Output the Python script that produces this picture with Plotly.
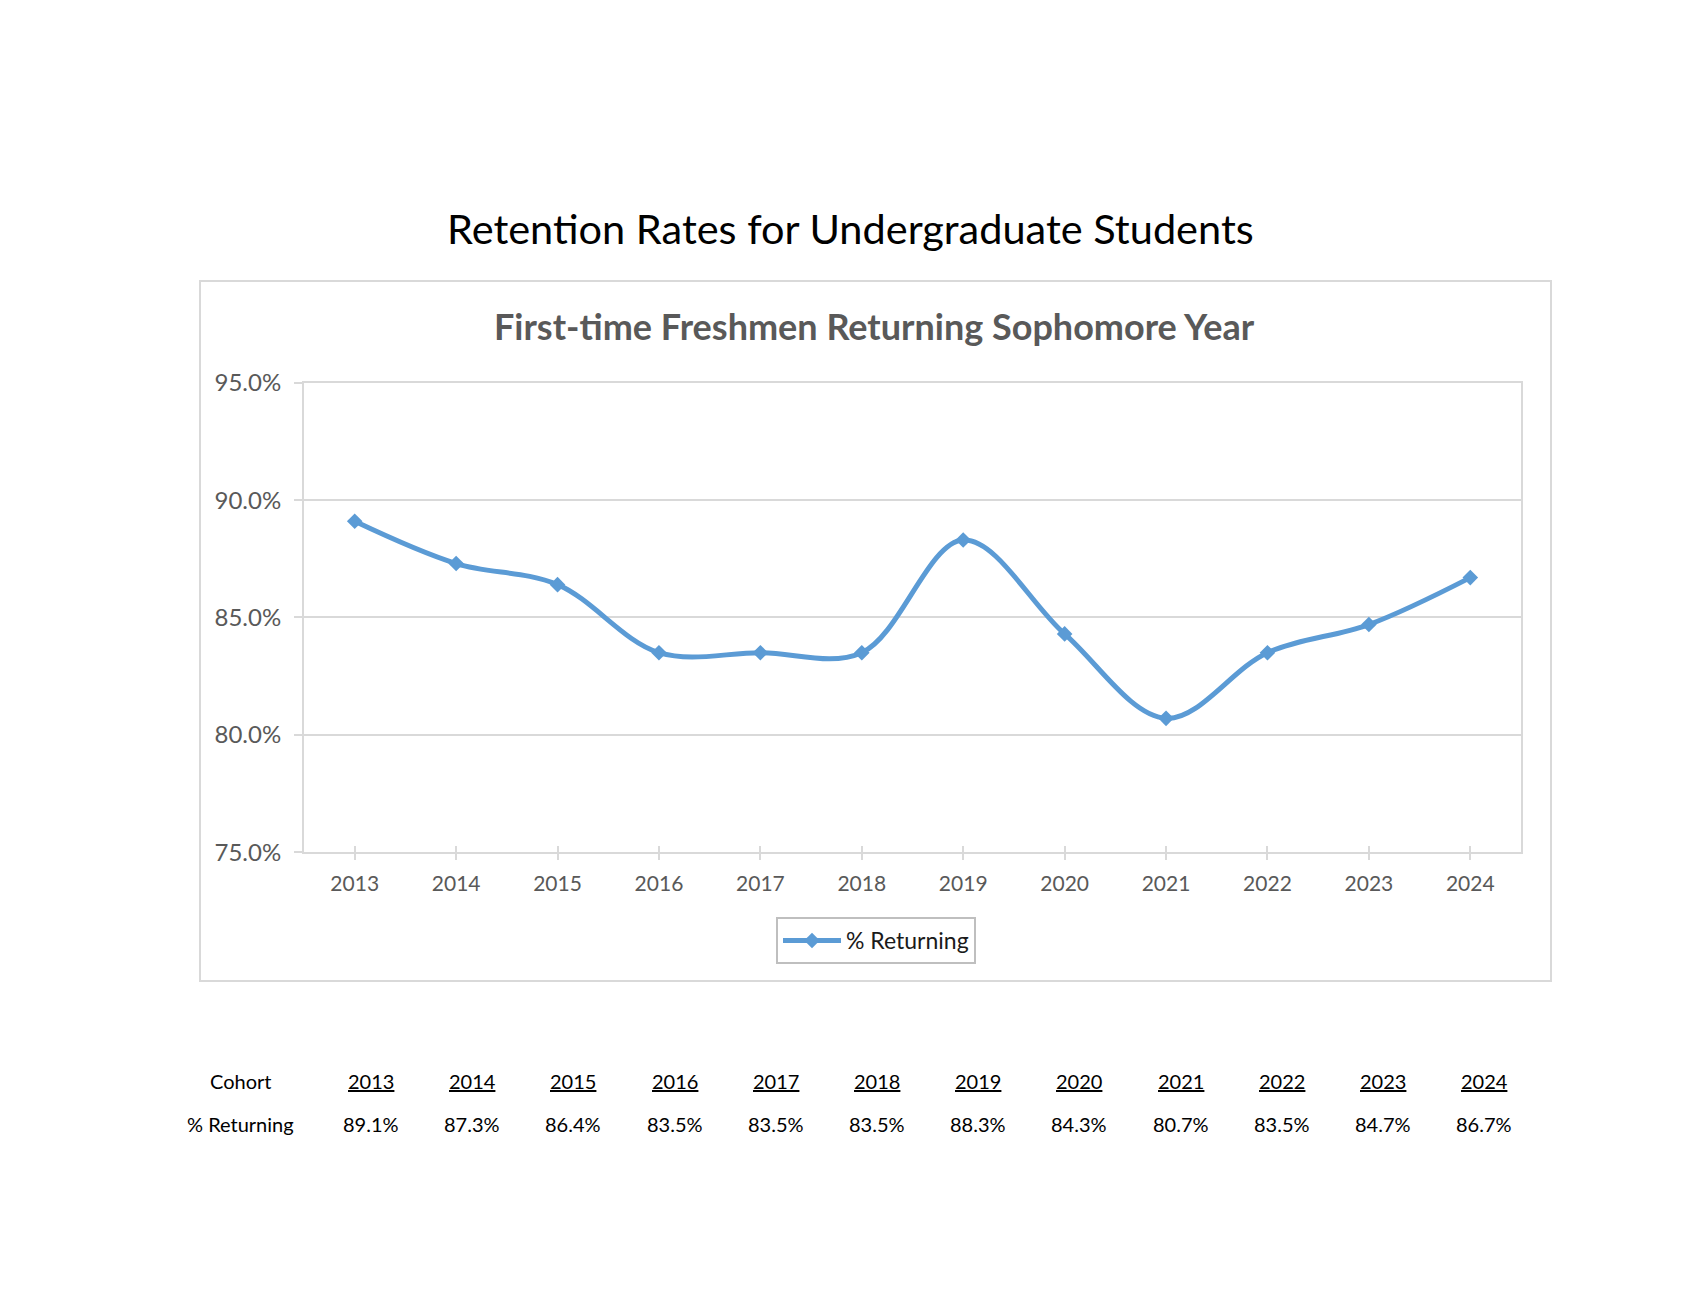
import plotly.graph_objects as go

YEARS = [2013, 2014, 2015, 2016, 2017, 2018, 2019, 2020, 2021, 2022, 2023, 2024]
PCT_RETURNING = [89.1, 87.3, 86.4, 83.5, 83.5, 83.5, 88.3, 84.3, 80.7, 83.5, 84.7, 86.7]
Y_TICKS = [75, 80, 85, 90, 95]

W, H = 1700, 1290
BLUE = '#5B9BD5'
GRID = '#D9D9D9'
LABEL = '#595959'
FONT = 'Lato, Carlito, Calibri, sans-serif'


def px(x):
    return x / W


def py(y):
    # pixel row measured on the reference page -> paper fraction (small vertical calibration)
    return 1 - (1.0213 * y - 15.84) / H


def note(text, x, y, size, color='#000000', **font_kw):
    fig.add_annotation(text=text, xref='paper', yref='paper', x=px(x), y=py(y),
                       xanchor='center', yanchor='middle', showarrow=False,
                       font=dict(size=size, color=color, family=FONT, **font_kw))


fig = go.Figure()
fig.add_trace(
    go.Scatter(name='% Returning', x=YEARS, y=PCT_RETURNING, mode='lines+markers',
               line=dict(color=BLUE, width=5, shape='spline', smoothing=1.0),
               marker=dict(symbol='diamond', size=12, color=BLUE))
)
# second x axis only to draw the inside half of the crossing tick marks
fig.add_trace(
    go.Scatter(x=YEARS, y=PCT_RETURNING, xaxis='x2', mode='lines', line=dict(width=0),
               showlegend=False, hoverinfo='skip', opacity=0)
)

fig.update_layout(
    width=W, height=H,
    margin=dict(l=0, r=0, t=0, b=0),
    paper_bgcolor='white', plot_bgcolor='white',
    font=dict(family=FONT, color=LABEL),
    showlegend=True,
    legend=dict(x=px(876), y=py(918), xanchor='center', yanchor='top',
                bordercolor='#BFBFBF', borderwidth=2, itemwidth=58,
                font=dict(size=23, color='#1a1a1a')),
    xaxis=dict(domain=[px(304), px(1521)], range=[2012.5, 2024.5],
               tickmode='array', tickvals=YEARS, ticktext=[str(y) for y in YEARS],
               showgrid=False, showline=True, linecolor=GRID, linewidth=2, mirror=True,
               ticks='outside', ticklen=6, tickcolor=GRID, tickwidth=1.5, ticklabelstandoff=6,
               tickfont=dict(size=21, color=LABEL), anchor='y', fixedrange=True),
    xaxis2=dict(overlaying='x', matches='x', anchor='y', showgrid=False, showline=False,
                tickmode='array', tickvals=YEARS, showticklabels=False,
                ticks='inside', ticklen=6, tickcolor=GRID, tickwidth=1.5, side='bottom'),
    yaxis=dict(domain=[py(853), py(383)], range=[75, 95],
               tickmode='array', tickvals=Y_TICKS, ticktext=[f'{v:.1f}%' for v in Y_TICKS],
               showgrid=True, gridcolor=GRID, gridwidth=1.5,
               showline=True, linecolor=GRID, linewidth=2, mirror=True,
               ticks='outside', ticklen=8, tickcolor=GRID, tickwidth=1.5, ticklabelstandoff=8,
               tickfont=dict(size=24, color=LABEL), zeroline=False, fixedrange=True),
)

# outer chart frame
fig.add_shape(type='rect', xref='paper', yref='paper',
              x0=px(200), x1=px(1551), y0=py(982), y1=py(281),
              line=dict(color=GRID, width=2), fillcolor='rgba(0,0,0,0)', layer='below')

note('Retention Rates for Undergraduate Students', 850, 228, 41.5)
note('<b>First-time Freshmen Returning Sophomore Year</b>', 874, 326, 36, color=LABEL)

# table under the chart
row_cohort, row_pct = 1082, 1125
note('Cohort', 241, row_cohort, 20)
note('% Returning', 241, row_pct, 20)
for i, (yr, val) in enumerate(zip(YEARS, PCT_RETURNING)):
    cx = 371 + i * 101.2
    note(str(yr), cx, row_cohort, 20, lineposition='under')
    note(f'{val:.1f}%', cx, row_pct, 20)

fig.write_html('out.html', config={'displayModeBar': False},
               post_script="document.body.style.margin='0';")
